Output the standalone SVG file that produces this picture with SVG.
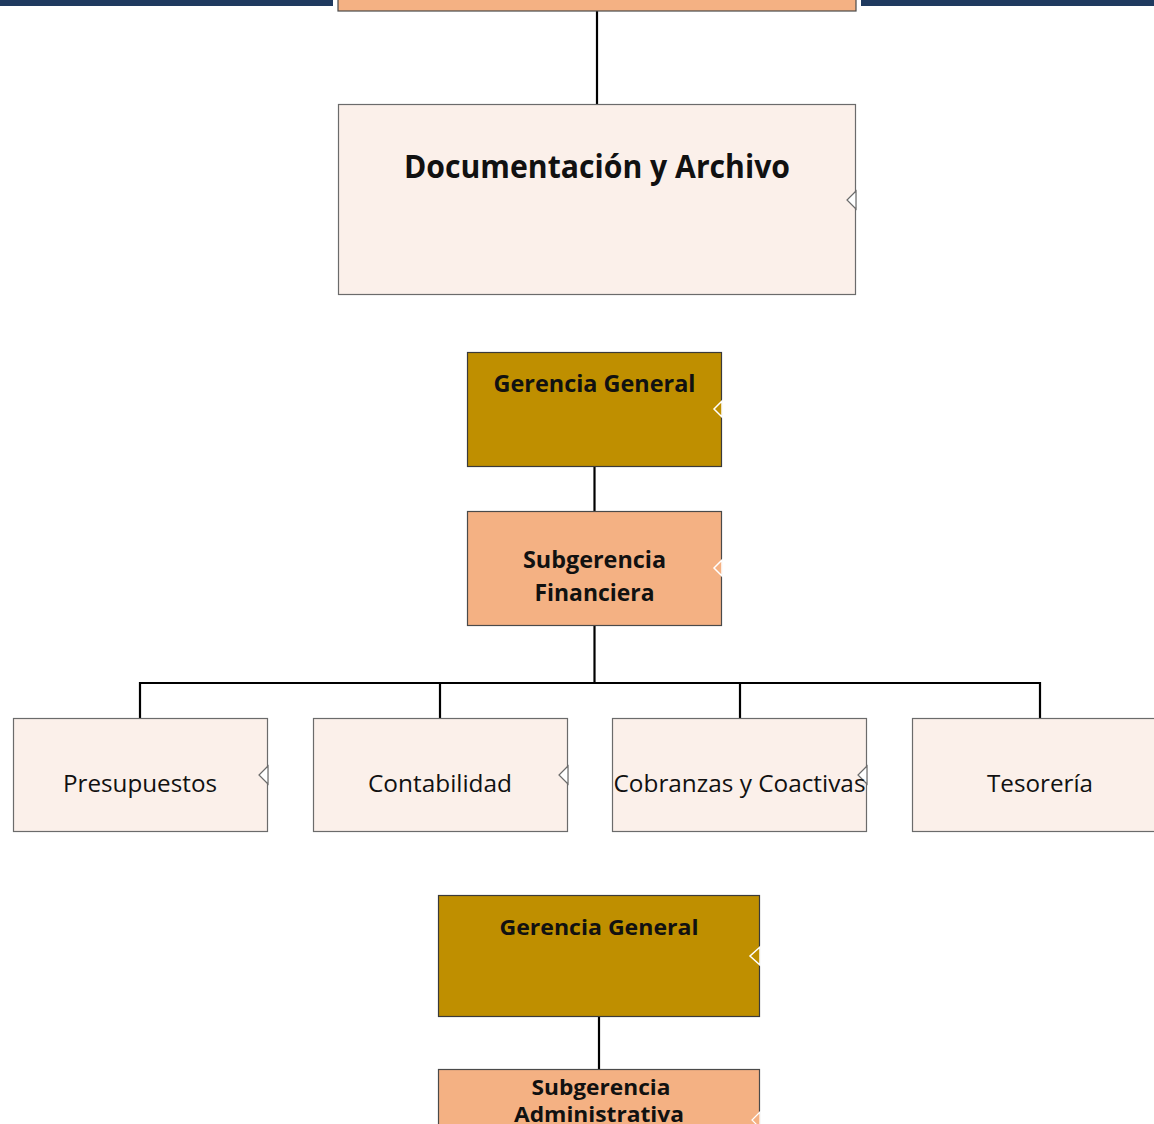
<svg xmlns="http://www.w3.org/2000/svg" width="1154" height="1124" viewBox="0 0 1154 1124">
<style>
.t{font-family:"Open Sans","Noto Sans","Liberation Sans",sans-serif;fill:#111;text-anchor:middle}
.b{font-weight:bold}
.light{fill:#FBF0EA;stroke:#6b6b6b;stroke-width:1.2}
.gold{fill:#BF8F00;stroke:#3a3a3a;stroke-width:1.2}
.peach{fill:#F4B183;stroke:#4a4a4a;stroke-width:1.2}
.notch{fill:#ffffff;stroke:#6b6b6b;stroke-width:1.2}
.conn{stroke:#000;stroke-width:2.2;fill:none}
</style>
<rect width="1154" height="1124" fill="#ffffff"/>
<rect x="0" y="0" width="1154" height="6" fill="#1F3A5F"/>
<rect x="333" y="0" width="528" height="8" fill="#ffffff"/>
<g id="connectors">
<line class="conn" x1="597" y1="11" x2="597" y2="104"/>
<line class="conn" x1="594.5" y1="467" x2="594.5" y2="511"/>
<line class="conn" x1="594.5" y1="626" x2="594.5" y2="683"/>
<polyline class="conn" points="140,718 140,683 1040,683 1040,718"/>
<line class="conn" x1="440" y1="683" x2="440" y2="718"/>
<line class="conn" x1="740" y1="683" x2="740" y2="718"/>
<line class="conn" x1="599" y1="1017" x2="599" y2="1069"/>
</g>
<g id="top-box">
<rect class="peach" x="338" y="-2" width="518" height="13"/>
</g>
<g id="documentacion">
<rect class="light" x="338.5" y="104.5" width="517" height="190"/>
<polygon class="notch" points="856,191 847,200 856,209"/>
<text class="t b" x="597" y="178" font-size="32" textLength="386" lengthAdjust="spacingAndGlyphs">Documentación y Archivo</text>
</g>
<g id="gerencia-general-1">
<rect class="gold" x="467.5" y="352.5" width="254" height="114"/>
<polygon points="722,401 714,409 722,417" fill="#BF8F00" stroke="#ffffff" stroke-width="1.5"/>
<text class="t b" x="594.5" y="392" font-size="24" textLength="202" lengthAdjust="spacingAndGlyphs">Gerencia General</text>
</g>
<g id="subgerencia-financiera">
<rect class="peach" x="467.5" y="511.5" width="254" height="114"/>
<polygon points="722,560 714,568 722,576" fill="#F4B183" stroke="#ffffff" stroke-width="1.5"/>
<text class="t b" x="594.5" y="568" font-size="24" textLength="143" lengthAdjust="spacingAndGlyphs">Subgerencia</text>
<text class="t b" x="594.5" y="601" font-size="24" textLength="120" lengthAdjust="spacingAndGlyphs">Financiera</text>
</g>
<g id="presupuestos">
<rect class="light" x="13.5" y="718.5" width="254" height="113"/>
<polygon class="notch" points="268,766 259,775 268,784"/>
<text class="t" x="140" y="792" font-size="24" textLength="154" lengthAdjust="spacingAndGlyphs">Presupuestos</text>
</g>
<g id="contabilidad">
<rect class="light" x="313.5" y="718.5" width="254" height="113"/>
<polygon class="notch" points="568,766 559,775 568,784"/>
<text class="t" x="440" y="792" font-size="24" textLength="144" lengthAdjust="spacingAndGlyphs">Contabilidad</text>
</g>
<g id="cobranzas">
<rect class="light" x="612.5" y="718.5" width="254" height="113"/>
<polygon class="notch" points="867,766 858,775 867,784"/>
<text class="t" x="739.5" y="792" font-size="24" textLength="252" lengthAdjust="spacingAndGlyphs">Cobranzas y Coactivas</text>
</g>
<g id="tesoreria">
<rect class="light" x="912.5" y="718.5" width="254" height="113"/>
<text class="t" x="1040" y="792" font-size="24" textLength="106" lengthAdjust="spacingAndGlyphs">Tesorería</text>
</g>
<g id="gerencia-general-2">
<rect class="gold" x="438.5" y="895.5" width="321" height="121" stroke="#5a4a20"/>
<polygon points="760,947 750,956 760,965" fill="#BF8F00" stroke="#ffffff" stroke-width="1.5"/>
<text class="t b" x="599" y="935" font-size="22" textLength="199" lengthAdjust="spacingAndGlyphs">Gerencia General</text>
</g>
<g id="subgerencia-administrativa">
<rect class="peach" x="438.5" y="1069.5" width="321" height="60"/>
<polygon points="760,1112 752,1120 760,1128" fill="#F4B183" stroke="#ffffff" stroke-width="1.2"/>
<text class="t b" x="601" y="1095" font-size="21" textLength="139" lengthAdjust="spacingAndGlyphs">Subgerencia</text>
<text class="t b" x="599" y="1122" font-size="21" textLength="170" lengthAdjust="spacingAndGlyphs">Administrativa</text>
</g>
</svg>
